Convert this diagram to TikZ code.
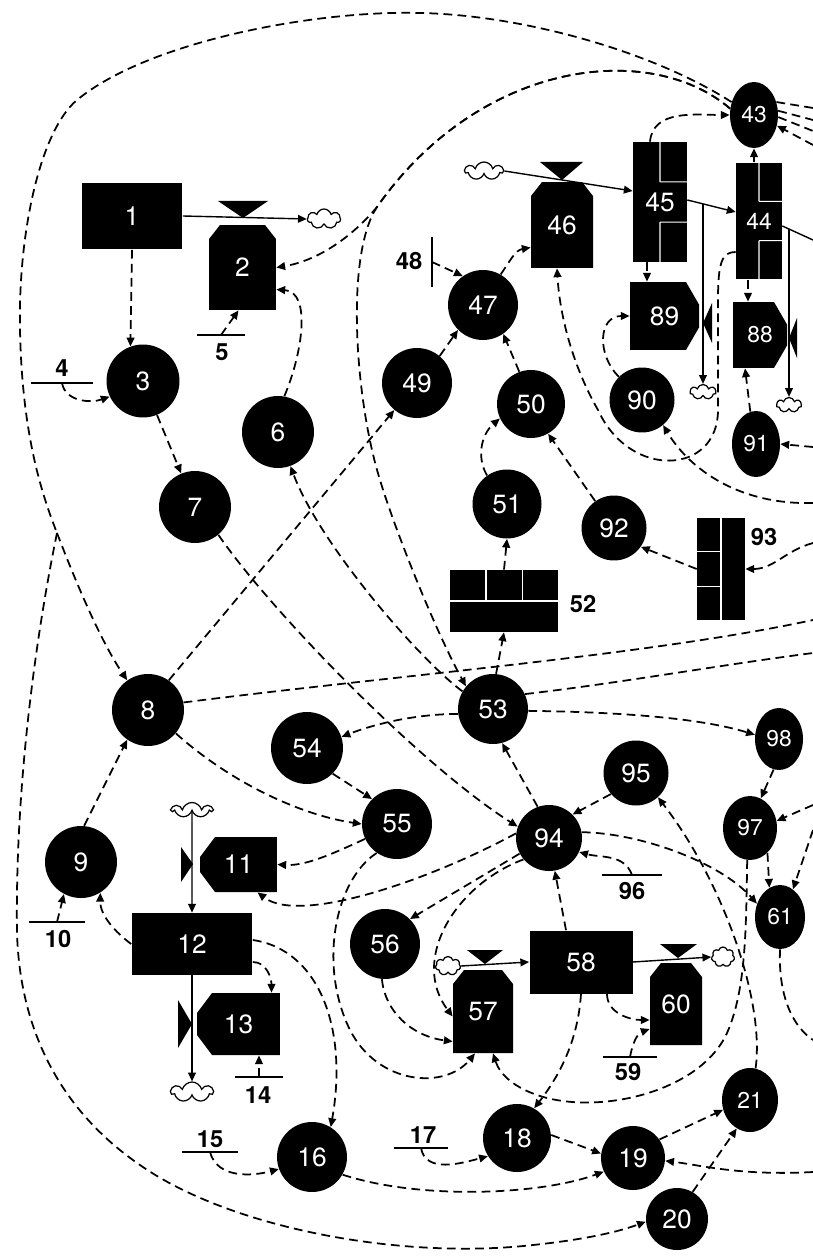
\documentclass[tikz,border=0pt]{standalone}
\usepackage{fontspec}
\setmainfont{TeX Gyre Heros}
\usetikzlibrary{arrows.meta, calc, shapes.geometric, shapes.symbols}

\newcommand{\numfont}{\fontsize{15}{15}\selectfont}
\newcommand{\smallnum}{\fontsize{13}{13}\selectfont}
\newcommand{\labfont}{\bfseries\fontsize{13.5}{13.5}\selectfont}
\newcommand{\ppb}{path picture bounding box}

\begin{document}
\begin{tikzpicture}[
    x=0.02cm, y=0.02cm,
    >={Triangle[length=5pt, width=4.4pt]},
    aux/.style={circle, fill=black, text=white, inner sep=0pt, font=\numfont},
    auxe/.style={ellipse, fill=black, text=white, inner sep=0pt, font=\smallnum},
    box/.style={rectangle, fill=black, text=white, inner sep=0pt, font=\numfont},
    rackE/.style={box, path picture={
      \draw[white, line width=0.6pt] (\ppb.north) -- ($(\ppb.north)!0.333!(\ppb.south)$)
        ($(\ppb.north)!0.667!(\ppb.south)$) -- (\ppb.south)
        ($(\ppb.north)!0.333!(\ppb.south)$) -- ($(\ppb.north east)!0.333!(\ppb.south east)$)
        ($(\ppb.north)!0.667!(\ppb.south)$) -- ($(\ppb.north east)!0.667!(\ppb.south east)$);}},
    rackW/.style={box, path picture={
      \draw[white, line width=0.6pt] (\ppb.north) -- (\ppb.south)
        ($(\ppb.north)!0.333!(\ppb.south)$) -- ($(\ppb.north west)!0.333!(\ppb.south west)$)
        ($(\ppb.north)!0.667!(\ppb.south)$) -- ($(\ppb.north west)!0.667!(\ppb.south west)$);}},
    shelf/.style={box, path picture={
      \draw[white, line width=0.6pt] (\ppb.west) -- (\ppb.east)
        ($(\ppb.north west)!0.333!(\ppb.north east)$) -- ($(\ppb.west)!0.333!(\ppb.east)$)
        ($(\ppb.north west)!0.667!(\ppb.north east)$) -- ($(\ppb.west)!0.667!(\ppb.east)$);}},
    tank/.style={rectangle, text=white, inner sep=0pt, font=\numfont, path picture={
      \fill[black] ([yshift=-0.28cm]\ppb.north west) -- ([xshift=0.22cm]\ppb.north west)
        -- ([xshift=-0.22cm]\ppb.north east) -- ([yshift=-0.28cm]\ppb.north east)
        -- (\ppb.south east) -- (\ppb.south west) -- cycle;}},
    rateW/.style={rectangle, text=white, inner sep=0pt, font=\numfont, path picture={
      \fill[black] ([xshift=0.3cm]\ppb.north west) -- (\ppb.north east) -- (\ppb.south east)
        -- ([xshift=0.3cm]\ppb.south west) -- ([yshift=0.4cm]\ppb.south west)
        -- ([yshift=-0.4cm]\ppb.north west) -- cycle;}},
    rateE/.style={rectangle, text=white, inner sep=0pt, font=\numfont, path picture={
      \fill[black] (\ppb.north west) -- ([xshift=-0.26cm]\ppb.north east) -- ([yshift=-0.45cm]\ppb.north east)
        -- ([yshift=0.45cm]\ppb.south east) -- ([xshift=-0.26cm]\ppb.south east)
        -- (\ppb.south west) -- cycle;}},
    puff/.style={cloud, cloud puffs=7, cloud ignores aspect, draw, line width=0.7pt, fill=white, inner sep=0pt},
    flow/.style={->, line width=0.8pt},
    infl/.style={->, line width=1pt, dash pattern=on 5pt off 3pt},
    link/.style={line width=1pt, dash pattern=on 5pt off 3pt},
    par/.style={line width=0.9pt},
    lab/.style={font=\labfont, inner sep=0pt}
  ]
  \useasboundingbox (0,0) rectangle (813,-1256);

  % Auxiliaries
  \foreach \nm/\x/\y/\d in {3/143/381/1.46, 6/278/432/1.44, 7/195/507/1.44, 8/148/710/1.44,
      9/81/862/1.44, 16/312/1157/1.4, 47/483/305/1.4, 49/417/383/1.4, 50/531/404/1.36,
      51/507/504/1.38, 53/493/709/1.4, 54/307/748/1.44, 55/397/824/1.4, 56/385/944/1.4,
      90/642/400/1.3, 92/614/528/1.3, 94/549/838/1.32, 95/636/773/1.3, 18/517/1138/1.36,
      19/633/1158/1.28, 20/677/1219/1.24} {
    \node[aux, minimum size=\d cm] (n\nm) at (\x,-\y) {\nm};
  }
  \foreach \nm/\x/\y/\w/\h in {43/754/115/0.96/1.32, 91/756/444/0.96/1.32, 98/779/739/0.96/1.24,
      97/750/828/1.08/1.28, 61/780/917/1.0/1.28, 21/750/1100/1.12/1.28} {
    \node[auxe, minimum width=\w cm, minimum height=\h cm] (n\nm) at (\x,-\y) {\nm};
  }

  % Levels
  \node[box, minimum width=2.02cm, minimum height=1.34cm] (s1) at (132,-216) {1};
  \node[box, minimum width=2.42cm, minimum height=1.24cm] (s12) at (192,-944) {12};
  \node[box, minimum width=2.06cm, minimum height=1.26cm] (s58) at (581,-962) {58};
  \node[shelf, minimum width=2.16cm, minimum height=1.24cm] (s52) at (504,-601) {};
  \node[rackW, minimum width=0.96cm, minimum height=2.04cm] (s93) at (721,-569) {};
  \node[rackE, minimum width=1.08cm, minimum height=2.4cm] (s45) at (660,-202) {45};
  \node[rackE, minimum width=0.92cm, minimum height=2.34cm, font=\smallnum] (s44) at (759,-221) {44};

  % Tanks and rates
  \node[tank, minimum width=1.34cm, minimum height=1.7cm] (t2) at (242.5,-267.5) {2};
  \node[tank, minimum width=1.24cm, minimum height=1.72cm] (t46) at (562,-225) {46};
  \node[tank, minimum width=1.2cm, minimum height=1.66cm] (t57) at (483,-1011.5) {57};
  \node[tank, minimum width=1.04cm, minimum height=1.64cm] (t60) at (676,-1004) {60};
  \node[rateW, minimum width=1.54cm, minimum height=1.1cm] (r11) at (238.5,-864.5) {11};
  \node[rateW, minimum width=1.66cm, minimum height=1.24cm] (r13) at (238.5,-1024) {13};
  \node[rateE, minimum width=1.38cm, minimum height=1.36cm] (r89) at (664.5,-316) {89};
  \node[rateE, minimum width=1.08cm, minimum height=1.32cm, font=\smallnum] (r88) at (760,-335) {88};

  % Valves
  \foreach \ax/\ay/\bx/\by/\cx/\cy in {218/201/268/201/243/218, 540/162/583/162/562/180,
      467/950/503/950/485/964, 660/944/697/944/678/958, 181/847/181/882/193/864,
      178/1000/178/1048/192/1024, 712/303/712/343/703/323, 797/318/797/358/789/338}
    \fill (\ax,-\ay) -- (\bx,-\by) -- (\cx,-\cy) -- cycle;

  % Clouds
  \foreach \nm/\x/\y/\w/\h in {1/324/219/0.66/0.4, 2/484/171/0.76/0.36, 3/703/392/0.52/0.3,
      4/789/405/0.5/0.3, 5/192/810/0.8/0.3, 6/192/1092/0.84/0.4, 7/448/966/0.5/0.38,
      8/723/957/0.46/0.4} {
    \node[puff, minimum width=\w cm, minimum height=\h cm] (c\nm) at (\x,-\y) {};
  }

  % Parameters
  \foreach \nm/\x/\y/\hw/\lx/\ly in {4/62/383/31/62/368, 5/221/335/24/222/352, 10/57/922/28/58/939,
      14/259/1077/24/258/1095, 15/210/1152/28/210/1139, 17/421/1148/27/423/1135,
      59/630/1057/27/628/1072, 96/632/875/30/632/891} {
    \draw[par] (\x-\hw,-\y) -- (\x+\hw,-\y);
    \coordinate (p\nm) at (\x,-\y);
    \node[lab] (l\nm) at (\lx,-\ly) {\nm};
  }
  \draw[par] (432,-237) -- (432,-287);
  \coordinate (p48) at (432,-262);
  \node[lab] (l48) at (409,-261) {48};
  \node[lab] (l52) at (583,-604) {52};
  \node[lab] (l93) at (764,-537) {93};

  % Junctions and free ends
  \coordinate (j45) at (703,-204);
  \coordinate (j44) at (789,-229);
  \coordinate (k1) at (377,-207);
  \coordinate (k2) at (57,-533);
  \coordinate (e44) at (813,-240);
  \coordinate (e43a) at (813,-108);
  \coordinate (e43b) at (813,-120);
  \coordinate (e43c) at (813,-131);
  \coordinate (e43d) at (813,-145);
  \coordinate (e91) at (813,-447);
  \coordinate (e90) at (813,-503);
  \coordinate (e93) at (813,-543);
  \coordinate (e8) at (813,-620);
  \coordinate (e53) at (813,-653);
  \coordinate (e97) at (813,-805);
  \coordinate (e61) at (813,-830);
  \coordinate (e61b) at (813,-1040);
  \coordinate (e19) at (813,-1172);

  % Flows
  \draw[flow] (s1.east) -- (c1.west);
  \draw[flow] (c2.east) -- ([yshift=0.22cm]s45.west);
  \draw[flow] ([yshift=0.04cm]s45.east) -- ([yshift=0.18cm]s44.west);
  \draw[flow] (j45) -- (c3.north);
  \draw[line width=0.8pt] ([yshift=-0.1cm]s44.east) -- (e44);
  \draw[flow] (j44) -- (c4.north);
  \draw[flow] (c5.south) -- (s12.north);
  \draw[flow] (s12.south) -- (c6.north);
  \draw[flow] (c7.east) -- (s58.west);
  \draw[flow] (s58.east) -- (c8.west);

  % Links from 43
  \draw[infl] (n43.165) .. controls (650,-40) and (480,-60) .. (k1)
    .. controls (345,-245) and (310,-262) .. (t2.east);
  \draw[infl] (n43.165) .. controls (650,-40) and (480,-60) .. (k1)
    .. controls (345,-255) and (355,-400) .. (380,-480)
    .. controls (395,-530) and (435,-630) .. (n53.140);
  \draw[link] (n43.150) .. controls (650,-50) and (520,-15) .. (420,-13)
    .. controls (320,-10) and (150,-40) .. (77,-100)
    .. controls (41,-130) and (18,-230) .. (20,-330)
    .. controls (22,-430) and (40,-490) .. (k2);
  \draw[infl] (k2) .. controls (75,-580) and (100,-640) .. (n8.125);
  \draw[infl] (k2) .. controls (35,-640) and (15,-790) .. (17,-933)
    .. controls (20,-1030) and (60,-1110) .. (140,-1165)
    .. controls (230,-1228) and (400,-1260) .. (533,-1245)
    .. controls (580,-1240) and (615,-1233) .. (n20.185);
  \draw[link] (n43.30) -- (e43a);
  \draw[link] (n43.10) -- (e43b);
  \draw[link] (n43.-5) -- (e43c);
  \draw[infl] (e43d) -- (n43.-25);

  % Upper left
  \draw[infl] (s1.south) -- (n3.110);
  \draw[infl] (p4) to[out=-80, in=-160] (n3.205);
  \draw[infl] (p5) -- ([xshift=-0.08cm]t2.south);
  \draw[infl] (n6.80) .. controls (302,-355) and (312,-292) .. ([yshift=-0.44cm]t2.east);
  \draw[infl] (n3) -- (n7);

  % Upper right
  \draw[infl] ([xshift=-0.2cm]s45.north) to[out=85, in=180] (n43.180);
  \draw[infl] ([xshift=-0.1cm]s44.north) -- (n43.south);
  \draw[infl] ([xshift=-0.26cm]s45.south) -- ([xshift=-0.26cm]s45.south |- r89.north);
  \draw[infl] ([xshift=-0.22cm]s44.south) -- ([xshift=-0.22cm]s44.south |- r88.north);
  \draw[infl] (n91.100) -- ([xshift=-0.3cm]r88.south);
  \draw[infl] (e91) -- (n91.east);
  \draw[infl] (n90.135) to[out=135, in=180, looseness=1.3] (r89.west);
  \draw[infl] ([yshift=-0.62cm]s44.west) .. controls (722,-252) and (718,-262) .. (718,-300)
    -- (718,-410) .. controls (718,-475) and (630,-480) .. (598,-410)
    .. controls (575,-370) and (560,-320) .. ([xshift=-0.1cm]t46.south);
  \draw[infl] (e90) .. controls (740,-505) and (690,-470) .. (n90.-50);
  \draw[infl] (n50.110) -- (n47.-55);
  \draw[infl] (n49.50) -- (n47.-135);
  \draw[infl] (p48) -- (n47.125);
  \draw[infl] (n47.60) to[out=55, in=190] ([yshift=-0.45cm]t46.west);
  \draw[infl] (n51.125) to[out=120, in=-140] (n50.205);
  \draw[infl] (n92.125) -- (n50.-60);
  \draw[infl] (s93.west) -- (n92.-35);
  \draw[infl] (e93) to[out=195, in=0] (s93.east);
  \draw[infl] (n53.85) -- (s52.south);
  \draw[infl] (s52.north) -- (n51.south);

  % Middle
  \draw[infl] (n53.150) .. controls (420,-660) and (320,-545) .. (n6.-70);
  \draw[infl] (n7.-50) .. controls (270,-610) and (420,-765) .. (n94.160);
  \draw[infl] (n8.55) -- (n49.-130);
  \draw[infl] (n8.-40) .. controls (230,-782) and (300,-815) .. (n55.180);
  \draw[infl] (n9.85) -- (n8.-125);
  \draw[link] (n8.12) .. controls (400,-675) and (650,-655) .. (e8);
  \draw[link] (n53.25) .. controls (620,-683) and (720,-665) .. (e53);
  \draw[infl] (n53.-3) .. controls (620,-712) and (700,-718) .. (n98.170);
  \draw[infl] (n53.188) .. controls (420,-714) and (380,-722) .. (n54.18);
  \draw[infl] (n94.110) -- (n53.-75);
  \draw[infl] (n95.-140) -- (n94.45);
  \draw[infl] (n54.-45) -- (n55.135);
  \draw[infl] (n55.-155) .. controls (330,-855) and (305,-866) .. (r11.east);
  \draw[infl] (n94.172) .. controls (430,-880) and (300,-925) .. ([xshift=0.38cm]r11.south);
  \draw[infl] (n94.-152) -- (n56.45);
  \draw[infl] (n94.-140) .. controls (455,-885) and (410,-960) .. ([yshift=-0.1cm]t57.west);
  \draw[infl] (n56.-95) .. controls (385,-1012) and (412,-1036) .. ([yshift=-0.6cm]t57.west);
  \draw[infl] (n55.-125) .. controls (335,-880) and (318,-965) .. (350,-1030)
    .. controls (378,-1085) and (445,-1090) .. ([xshift=-0.16cm]t57.south);
  \draw[infl] (n97.-95) .. controls (746,-930) and (746,-990) .. (727,-1033)
    .. controls (700,-1092) and (600,-1115) .. (540,-1096)
    .. controls (515,-1088) and (500,-1075) .. ([xshift=0.2cm]t57.south);

  % Lower right
  \draw[infl] ([xshift=-0.3cm]s58.north) -- (n94.-80);
  \draw[infl] (s58.south) .. controls (578,-1040) and (560,-1075) .. (n18.60);
  \draw[infl] ([xshift=0.52cm]s58.south) to[out=-90, in=180] ([yshift=-0.32cm]t60.west);
  \draw[infl] (p59) to[out=80, in=200] ([yshift=-0.5cm]t60.west);
  \draw[infl] (p96) to[out=110, in=-15] (n94.-25);
  \draw[infl] (n94.10) .. controls (640,-833) and (720,-862) .. (n61.150);
  \draw[infl] (n21.80) .. controls (765,-1000) and (722,-880) .. (n95.-48);
  \draw[infl] (n98.-100) -- (n97.70);
  \draw[infl] (e97) -- (n97.15);
  \draw[infl] (n97.-55) -- (n61.110);
  \draw[infl] (e61) -- (n61.65);
  \draw[link] (n61.-90) .. controls (778,-1000) and (795,-1028) .. (e61b);
  \draw[infl] (n16.-30) .. controls (420,-1200) and (540,-1195) .. (n19.-155);
  \draw[infl] (n18.5) -- (n19.172);
  \draw[infl] (n19.35) -- (n21.200);
  \draw[infl] (n20.60) -- (n21.-115);
  \draw[infl] (e19) .. controls (740,-1176) and (700,-1165) .. (n19.-5);

  % Lower left
  \draw[infl] (p17) to[out=-80, in=195] (n18.212);
  \draw[infl] (p15) to[out=-75, in=195] (n16.200);
  \draw[infl] ([yshift=0.08cm]s12.east) .. controls (320,-950) and (348,-1030) .. (n16.58);
  \draw[infl] ([yshift=-0.36cm]s12.east) to[out=0, in=90] ([xshift=0.66cm]r13.north);
  \draw[infl] (s12.west) .. controls (115,-932) and (100,-915) .. (n9.-58);
  \draw[infl] (p10) -- (n9.-118);
  \draw[infl] (p14) -- (p14 |- r13.south);

\end{tikzpicture}
\end{document}
